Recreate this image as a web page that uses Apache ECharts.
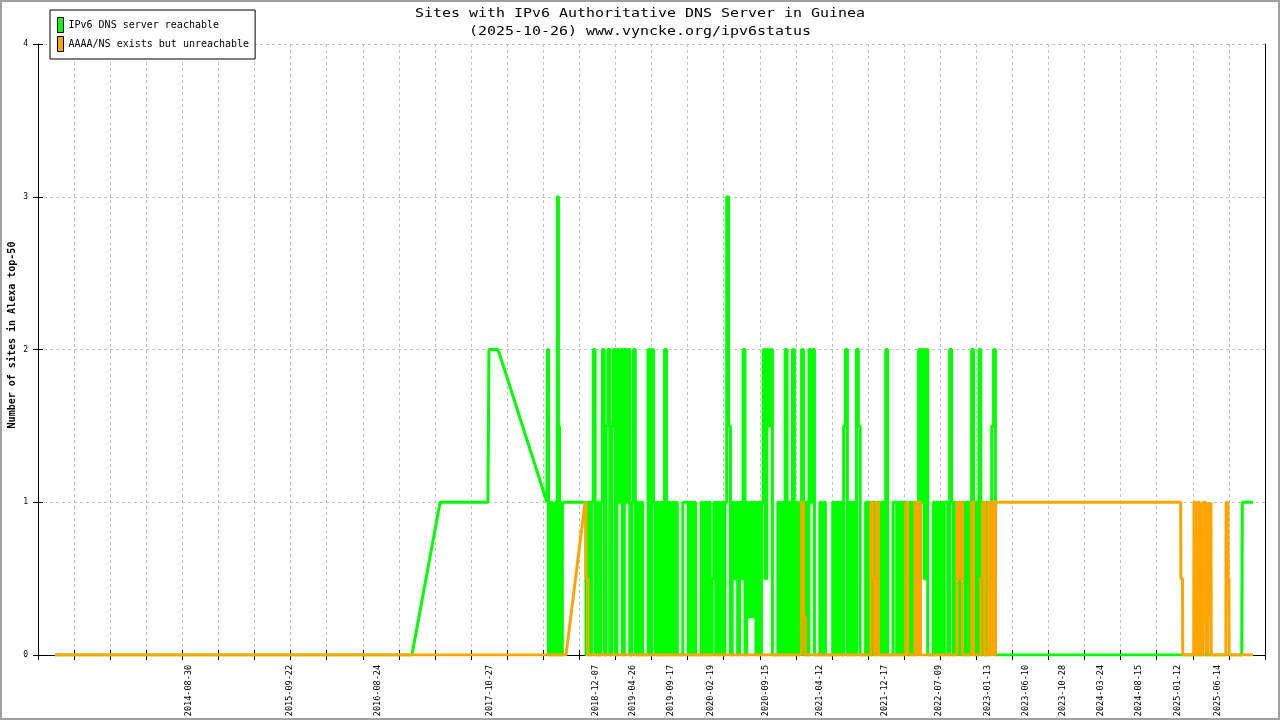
<!DOCTYPE html>
<html>
<head>
<meta charset="utf-8">
<script src="https://cdn.jsdelivr.net/npm/echarts@6/dist/echarts.min.js"></script>
<style>
html,body{margin:0;padding:0;background:#fff;}
#chart{width:1280px;height:720px;}
</style>
</head>
<body>
<div id="chart"></div>
<script>
// ---------- data ----------
const axisStart = '2013-01-29';
const axisEnd = '2025-12-11';
const labelDates = ['2014-08-30','2015-09-22','2016-08-24','2017-10-27','2018-12-07','2019-04-26','2019-09-17','2020-02-19','2020-09-15','2021-04-12','2021-12-17','2022-07-09','2023-01-13','2023-06-10','2023-10-28','2024-03-24','2024-08-15','2025-01-12','2025-06-14'];
const seriesNames = ['IPv6 DNS server reachable','AAAA/NS exists but unreachable'];

// sparse start (straight segments between samples)
const greenRampDates = ['2013-04-04','2016-12-31','2017-04-18','2017-10-18','2017-10-22','2017-11-26','2018-06-01'];
const greenRamp = [0,0,1,1,2,2,1];
const orangeRampDates = ['2013-04-04','2018-06-01'];
const orangeRamp = [0,0];

// first noisy burst
const burstDates = ['2018-06-01','2018-06-05','2018-06-09','2018-06-12','2018-06-16','2018-06-20','2018-06-24','2018-06-28','2018-07-02','2018-07-05','2018-07-09','2018-07-13','2018-07-17','2018-07-21','2018-07-25','2018-07-28','2018-08-01'];
const burstGreen = [1,2,0,1,0,1,0,0.5,0,1,0,3,1.5,0,1,0,1];
const burstOrange = [0,0,0,0,0,0,0,0,0,0,0,0,0,0,0,0,0];

// data gap
const gapDates = ['2018-08-01','2018-08-13','2018-10-25'];
const gapGreen = [1,1,1];
const gapOrange = [0,0,1];

// weekly noisy period
const weekDates = [
'2018-10-25','2018-11-01','2018-11-08','2018-11-15','2018-11-22','2018-11-29','2018-12-06','2018-12-13','2018-12-20','2018-12-27',
'2019-01-03','2019-01-10','2019-01-17','2019-01-24','2019-01-31','2019-02-07','2019-02-14','2019-02-21','2019-02-28','2019-03-07','2019-03-14','2019-03-21','2019-03-28','2019-04-04','2019-04-11','2019-04-18','2019-04-25','2019-05-02','2019-05-09','2019-05-16','2019-05-23','2019-05-30','2019-06-06','2019-06-13','2019-06-20','2019-06-27','2019-07-04','2019-07-11','2019-07-18','2019-07-25','2019-08-01','2019-08-08','2019-08-15','2019-08-22','2019-08-29','2019-09-05','2019-09-12','2019-09-19','2019-09-26','2019-10-03','2019-10-10','2019-10-17','2019-10-24','2019-10-31','2019-11-07','2019-11-14','2019-11-21','2019-11-28','2019-12-05','2019-12-12','2019-12-19','2019-12-26',
'2020-01-02','2020-01-09','2020-01-16','2020-01-23','2020-01-30','2020-02-06','2020-02-13','2020-02-20','2020-02-27','2020-03-05','2020-03-12','2020-03-19','2020-03-26','2020-04-02','2020-04-09','2020-04-16','2020-04-23','2020-04-30','2020-05-07','2020-05-14','2020-05-21','2020-05-28','2020-06-04','2020-06-11','2020-06-18','2020-06-25','2020-07-02','2020-07-09','2020-07-16','2020-07-23','2020-07-30','2020-08-06','2020-08-13','2020-08-20','2020-08-27','2020-09-03','2020-09-10','2020-09-17','2020-09-24','2020-10-01','2020-10-08','2020-10-15','2020-10-22','2020-10-29','2020-11-05','2020-11-12','2020-11-19','2020-11-26','2020-12-03','2020-12-10','2020-12-17','2020-12-24','2020-12-31',
'2021-01-07','2021-01-14','2021-01-21','2021-01-28','2021-02-04','2021-02-11','2021-02-18','2021-02-25','2021-03-04','2021-03-11','2021-03-18','2021-03-25','2021-04-01','2021-04-08','2021-04-15','2021-04-22','2021-04-29','2021-05-06','2021-05-13','2021-05-20','2021-05-27','2021-06-03','2021-06-10','2021-06-17','2021-06-24','2021-07-01','2021-07-08','2021-07-15','2021-07-22','2021-07-29','2021-08-05','2021-08-12','2021-08-19','2021-08-26','2021-09-02','2021-09-09','2021-09-16','2021-09-23','2021-09-30','2021-10-07','2021-10-14','2021-10-21','2021-10-28','2021-11-04','2021-11-11','2021-11-18','2021-11-25','2021-12-02','2021-12-09','2021-12-16','2021-12-23','2021-12-30',
'2022-01-06','2022-01-13','2022-01-20','2022-01-27','2022-02-03','2022-02-10','2022-02-17','2022-02-24','2022-03-03','2022-03-10','2022-03-17','2022-03-24','2022-03-31','2022-04-07','2022-04-14','2022-04-21','2022-04-28','2022-05-05','2022-05-12','2022-05-19','2022-05-26','2022-06-02','2022-06-09','2022-06-16','2022-06-23','2022-06-30','2022-07-07','2022-07-14','2022-07-21','2022-07-28','2022-08-04','2022-08-11','2022-08-18','2022-08-25','2022-09-01','2022-09-08','2022-09-15','2022-09-22','2022-09-29','2022-10-06','2022-10-13','2022-10-20','2022-10-27','2022-11-03','2022-11-10','2022-11-17','2022-11-24','2022-12-01','2022-12-08','2022-12-15','2022-12-22','2022-12-29',
'2023-01-05','2023-01-12','2023-01-19','2023-01-26','2023-02-02','2023-02-09','2023-02-16'];
const weekGreen = [
1,0,1,0,1,2,0,1,0,1,
2,0,1.5,2,0,1.5,2,0,2,1,
2,0,2,1,2,0,1,2,0,1,
0,1,0,0,0,2,0,2,1,0,
1,0,1,0,2,0,1,0,1,0,
1,0,0,0,1,1,1,0,1,0,
1,0,0,0,1,0,1,0,1,0,
0.5,1,0,1,0,1,0,1,3,1.5,
0,1,0.5,1,0,1,0.5,2,0,1,
0.25,1,0.25,1,0,1,0,1,2,0.5,
2,1.5,2,0,0,0,1,0,1,0,
2,0,1,0,2,0,1,0,1,2,
0,1,0,2,1,2,0,0,0,1,
0,1,0,0,0,0,1,0,1,0,
1,0,1.5,2,0,1,0,1,0,2,
1.5,0,0,0,1,0,1,0,1,0,
0,1,0,1,0,2,0,0,0,1,
1,0,1,0,1,0,1,0,1,0,
1,0,1,2,1,2,0.5,2,0,0,
0,1,0,1,0,1,0,1,1,0,
2,1,0,1,0,1,0,1,0,1,
0,1,2,0,1,0,2,0,1,0,
1,0,1,1.5,2,0];
const weekOrange = [
1,0.5,0,0,0,0,0,0,0,0,
0,0,0,0,0,0,0,0,0,0,
0,0,0,0,0,0,0,0,0,0,
0,0,0,0,0,0,0,0,0,0,
0,0,0,0,0,0,0,0,0,0,
0,0,0,0,0,0,0,0,0,0,
0,0,0,0,0,0,0,0,0,0,
0,0,0,0,0,0,0,0,0,0,
0,0,0,0,0,0,0,0,0,0,
0,0,0,0,0,0,0,0,0,0,
0,0,0,0,0,0,0,0,0,0,
0,0,0,0,0,0,0,0,0,1,
0.25,0,0,0,0,0,0,0,0,0,
0,0,0,0,0,0,0,0,0,0,
0,0,0,0,0,0,0,0,0,0,
0,0,0,0,0,0,0,1,0.5,0,
1,0,0,0,0,0,0,0,0,0,
0,0,0,0,0,0,1,0,0,0,
0,1,0,1,0,0,0,0,0,0,
0,0,0,0,0,0,0,0,0,0,
0,0,0,0,1,0.5,1,0,0,0,
0,0,1,0,0,0,0,0.5,1,0,
0,1,0,1,0,1];

// quiet period and 2025 activity
const lateGreenDates = ['2023-02-16','2025-09-13','2025-09-15','2025-10-26'];
const lateGreen = [0,0,1,1];
const lateOrangeDates = ['2023-02-16','2025-01-22','2025-01-23','2025-01-29','2025-01-30','2025-03-13','2025-03-14','2025-03-21','2025-03-22','2025-03-28','2025-03-29','2025-04-05','2025-04-06','2025-04-07','2025-04-16','2025-04-17','2025-04-27','2025-04-28','2025-04-29','2025-05-06','2025-05-07','2025-05-13','2025-05-18','2025-05-19','2025-07-14','2025-07-15','2025-07-22','2025-07-23','2025-07-26','2025-07-27','2025-10-26'];
const lateOrange = [1,1,0.5,0.5,0,0,1,1,0,0,1,1,0.75,0,0,1,1,0.25,0,0,1,0.25,1,0,0,1,1,0.5,0.5,0,0];

// ---------- build ----------
const ts = s => Date.parse(s + 'T00:00:00Z');
const pair = (dates, vals) => dates.map((d, i) => [ts(d), vals[i]]);

const T0 = ts(axisStart), T1 = ts(axisEnd);
const xInterval = (T1 - T0) / 34;
const pad = n => (n < 10 ? '0' : '') + n;
const fmtDate = v => { const d = new Date(v); return d.getUTCFullYear() + '-' + pad(d.getUTCMonth() + 1) + '-' + pad(d.getUTCDate()); };

const MONO = '"DejaVu Sans Mono", "Liberation Mono", monospace';
const GREEN = '#00ff00', ORANGE = '#ffa500';

function seg(name, color, data, step) {
  return {
    name: name, type: 'line', data: data, step: step || false,
    xAxisIndex: 0, yAxisIndex: 0,
    showSymbol: false, symbol: 'none', sampling: null,
    color: color,
    lineStyle: { color: color, width: 3 },
    itemStyle: { color: color }
  };
}
const series = [
  seg(seriesNames[0], GREEN, pair(greenRampDates, greenRamp)),
  seg(seriesNames[0], GREEN, pair(burstDates, burstGreen), 'middle'),
  seg(seriesNames[0], GREEN, pair(gapDates, gapGreen)),
  seg(seriesNames[0], GREEN, pair(weekDates, weekGreen), 'middle'),
  seg(seriesNames[0], GREEN, pair(lateGreenDates, lateGreen)),
  seg(seriesNames[1], ORANGE, pair(orangeRampDates, orangeRamp)),
  seg(seriesNames[1], ORANGE, pair(burstDates, burstOrange), 'middle'),
  seg(seriesNames[1], ORANGE, pair(gapDates, gapOrange)),
  seg(seriesNames[1], ORANGE, pair(weekDates, weekOrange), 'middle'),
  seg(seriesNames[1], ORANGE, pair(lateOrangeDates, lateOrange))
];

const chart = echarts.init(document.getElementById('chart'), null, { renderer: 'canvas' });
chart.setOption({
  animation: false,
  backgroundColor: '#fff',
  grid: { left: 38, right: 15, top: 44, bottom: 65 },
  legend: {
    orient: 'vertical', left: 50, top: 10,
    padding: [7, 6, 7, 7],
    itemWidth: 6, itemHeight: 15, itemGap: 3,
    borderColor: '#000', borderWidth: 1, borderRadius: 0,
    backgroundColor: '#fff',
    icon: 'rect',
    itemStyle: { borderColor: '#000', borderWidth: 1 },
    textStyle: { fontFamily: MONO, fontSize: 10, color: '#000' },
    data: seriesNames
  },
  xAxis: [{
    type: 'value', min: T0, max: T1, interval: xInterval,
    axisLine: { show: true, lineStyle: { color: '#000', width: 1 } },
    axisTick: { show: true, length: 5, lineStyle: { color: '#000' } },
    splitLine: { show: true, lineStyle: { color: '#c0c0c0', width: 1, type: [3, 3] } },
    axisLabel: {
      customValues: labelDates.map(ts),
      rotate: 90, margin: 10,
      fontFamily: MONO, fontSize: 8.5, color: '#000',
      formatter: v => fmtDate(v)
    }
  }, {
    type: 'value', min: T0, max: T1, interval: xInterval, position: 'bottom',
    axisLine: { show: false },
    axisTick: { show: true, inside: true, length: 5, lineStyle: { color: '#000' } },
    axisLabel: { show: false }, splitLine: { show: false }
  }],
  yAxis: [{
    type: 'value', min: 0, max: 4, interval: 1,
    axisLine: { show: true, lineStyle: { color: '#000', width: 1 } },
    axisTick: { show: true, length: 5, lineStyle: { color: '#000' } },
    splitLine: { show: true, lineStyle: { color: '#c0c0c0', width: 1, type: [3, 3] } },
    axisLabel: { margin: 10, fontFamily: MONO, fontSize: 8, color: '#000' }
  }, {
    type: 'value', min: 0, max: 4, interval: 1, position: 'left',
    axisLine: { show: false },
    axisTick: { show: true, inside: true, length: 5, lineStyle: { color: '#000' } },
    axisLabel: { show: false }, splitLine: { show: false }
  }, {
    type: 'value', min: 0, max: 4, interval: 1, position: 'right',
    axisLine: { show: true, lineStyle: { color: '#000', width: 1 } },
    axisTick: { show: false }, axisLabel: { show: false }, splitLine: { show: false }
  }],
  series: series,
  graphic: [
    { type: 'text', x: 640, y: 14, scaleX: 1.15, z: 100,
      style: { text: 'Sites with IPv6 Authoritative DNS Server in Guinea', font: '13px ' + MONO, fill: '#000', textAlign: 'center', textVerticalAlign: 'middle' } },
    { type: 'text', x: 640, y: 32, scaleX: 1.15, z: 100,
      style: { text: '(2025-10-26) www.vyncke.org/ipv6status', font: '13px ' + MONO, fill: '#000', textAlign: 'center', textVerticalAlign: 'middle' } },
    { type: 'text', x: 12, y: 335, rotation: Math.PI / 2, scaleX: 0.91, z: 100,
      style: { text: 'Number of sites in Alexa top-50', font: 'bold 11px ' + MONO, fill: '#000', textAlign: 'center', textVerticalAlign: 'middle' } },
    { type: 'rect', z: 100, silent: true,
      shape: { x: 1, y: 1, width: 1278, height: 718 },
      style: { fill: 'none', stroke: '#a0a0a0', lineWidth: 2 } }
  ]
});

// Keep every short segment of the dense lines (the line view otherwise drops sub-2px segments).
try {
  const zr = chart.getZr();
  zr.storage.getDisplayList(true).forEach(el => {
    if (el.type === 'ec-polyline' || (el.shape && el.shape.points && el.segmentIgnoreThreshold)) {
      el.segmentIgnoreThreshold = 0.001;
      if (el.dirtyShape) el.dirtyShape();
    }
  });
  zr.refreshImmediately();
} catch (e) {}
</script>
</body>
</html>
